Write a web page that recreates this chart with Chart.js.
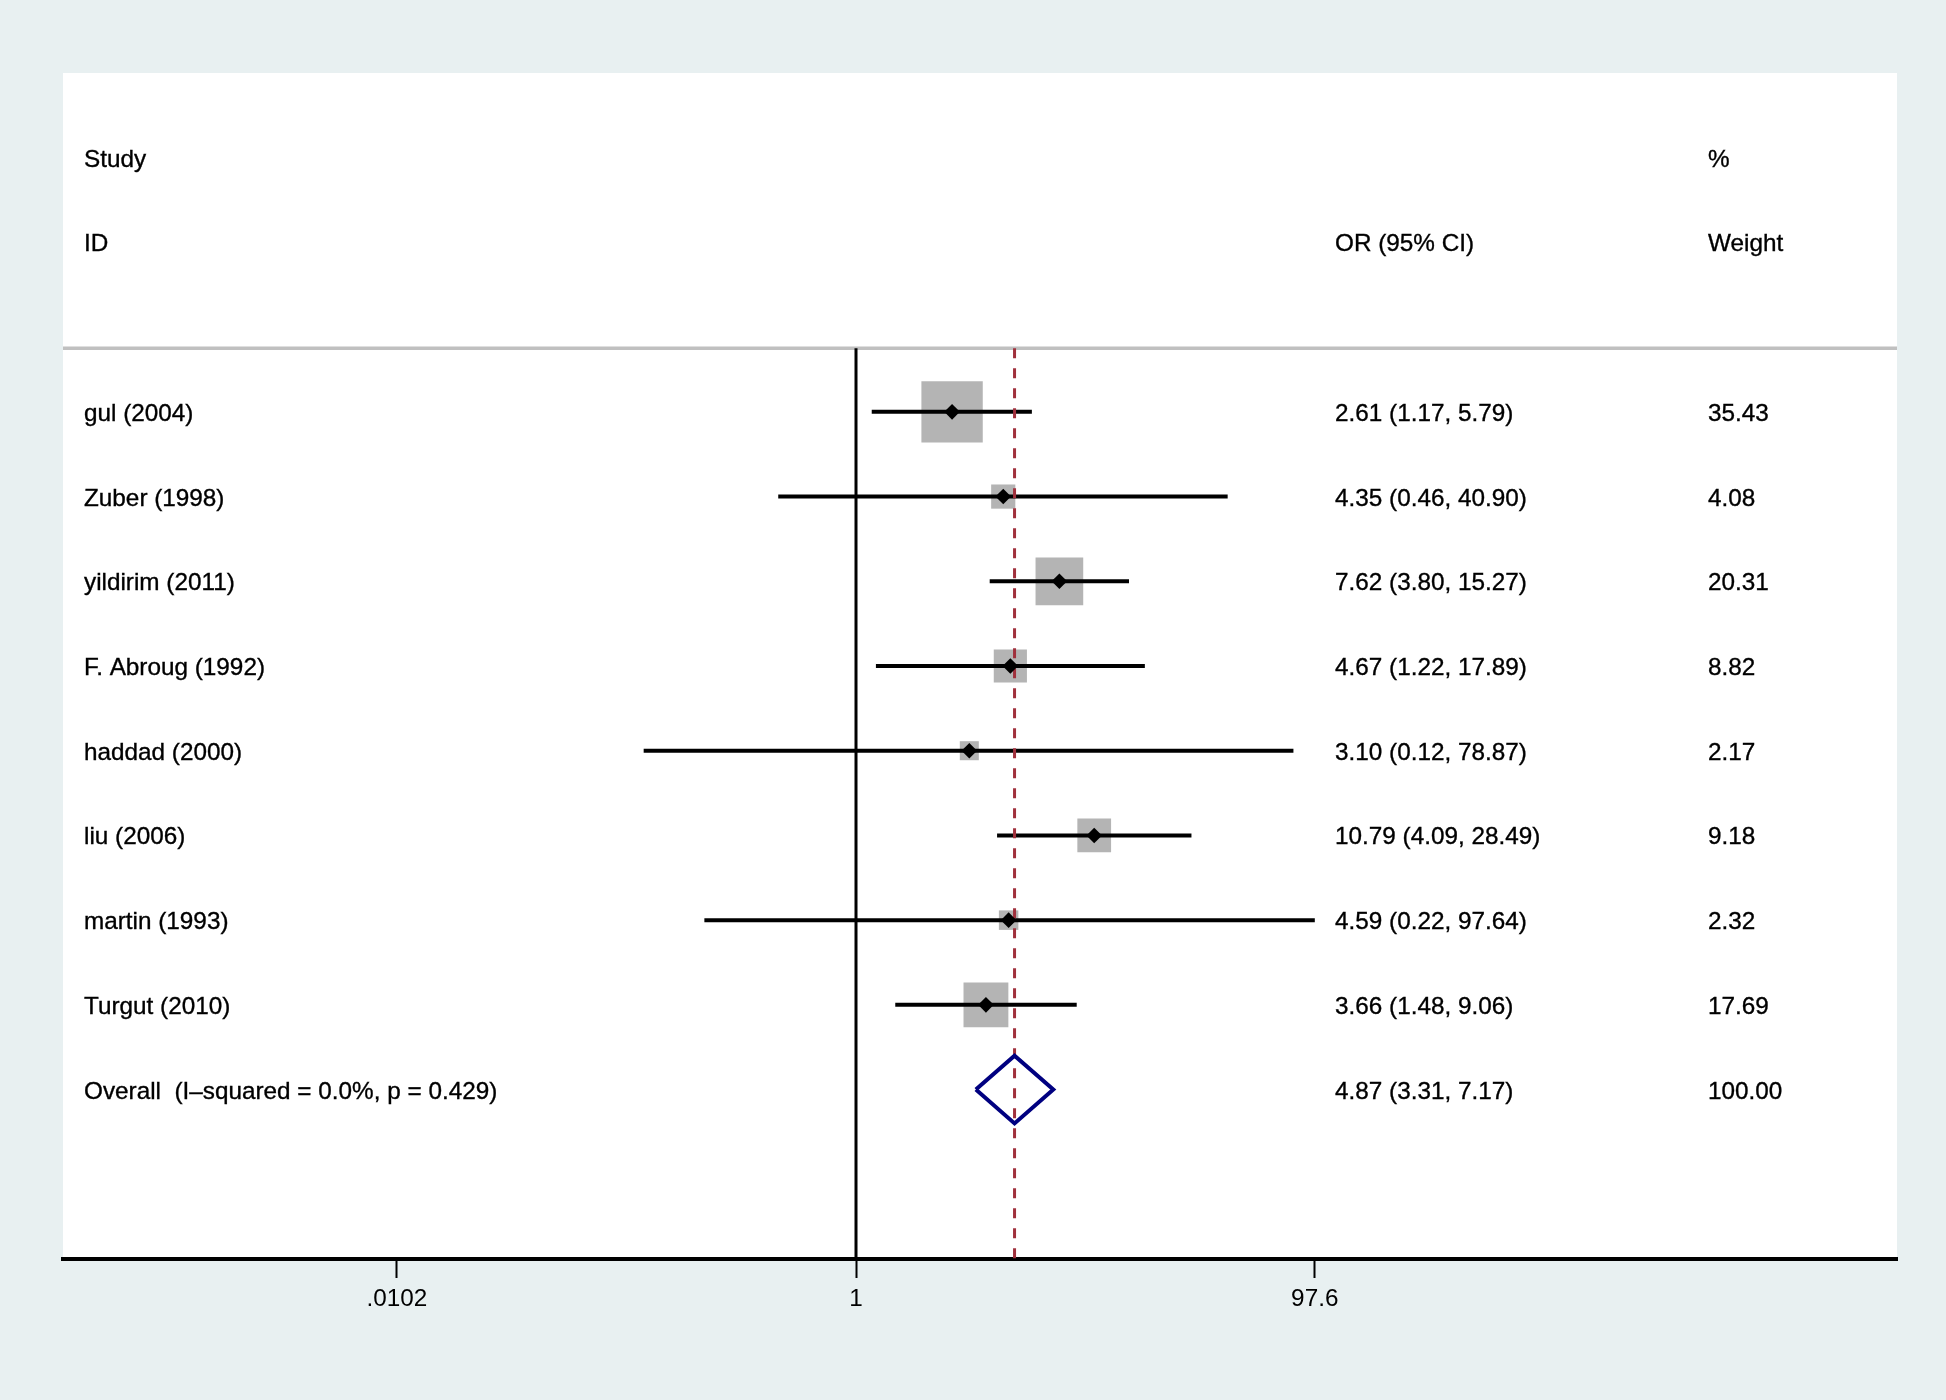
<!DOCTYPE html>
<html>
<head>
<meta charset="utf-8">
<script src="https://cdn.jsdelivr.net/npm/chart.js@4/dist/chart.umd.min.js"></script>
<style>
html,body{margin:0;padding:0;background:#e8f0f1;}
canvas{display:block;}
</style>
</head>
<body>
<canvas id="c" width="1946" height="1400"></canvas>
<script>
// ---- data ----
const studies   = ["gul (2004)", "Zuber (1998)", "yildirim (2011)", "F. Abroug (1992)", "haddad (2000)", "liu (2006)", "martin (1993)", "Turgut (2010)"];
const orValues  = [2.61, 4.35, 7.62, 4.67, 3.10, 10.79, 4.59, 3.66];
const ciLower   = [1.17, 0.46, 3.80, 1.22, 0.12, 4.09, 0.22, 1.48];
const ciUpper   = [5.79, 40.90, 15.27, 17.89, 78.87, 28.49, 97.64, 9.06];
const weights   = [35.43, 4.08, 20.31, 8.82, 2.17, 9.18, 2.32, 17.69];
const overallLabel = "Overall  (I\u2013squared = 0.0%, p = 0.429)";
const overallOR = 4.87, overallLo = 3.31, overallHi = 7.17, overallWeight = 100.00;
const tickValues = [0.0102, 1, 97.6];
const tickLabels = [".0102", "1", "97.6"];
const headerRow1 = ["Study", "", "%"];
const headerRow2 = ["ID", "OR (95% CI)", "Weight"];

// ---- styling ----
const FONT = "24.3px 'Liberation Sans', Arial, Helvetica, sans-serif";
const fmt2 = v => v.toFixed(2);
const orText = (e, l, u) => `${fmt2(e)} (${fmt2(l)}, ${fmt2(u)})`;

const rows = studies.map((_, i) => i);
const overallRow = studies.length;
const sepRow = -0.75;
const bottomRow = 10;

const datasets = [];
// weight boxes
datasets.push({
  type: 'scatter', order: 5,
  data: rows.map(i => ({x: orValues[i], y: i})),
  pointStyle: 'rect',
  pointRadius: weights.map(w => (5.1 + 9.45 * Math.sqrt(w)) / (2 * Math.SQRT1_2)),
  pointBackgroundColor: '#b4b4b4', pointBorderWidth: 0, borderWidth: 0
});
// CI lines
rows.forEach(i => {
  datasets.push({
    type: 'scatter', order: 3, showLine: true,
    data: [{x: ciLower[i], y: i}, {x: ciUpper[i], y: i}],
    borderColor: '#000', borderWidth: 4, pointRadius: 0, borderCapStyle: 'butt'
  });
});
// point estimate markers
datasets.push({
  type: 'scatter', order: 1,
  data: rows.map(i => ({x: orValues[i], y: i})),
  pointStyle: 'rectRot', pointRadius: 7.8,
  pointBackgroundColor: '#000', pointBorderWidth: 0
});
// null line at OR = 1
datasets.push({
  type: 'scatter', order: 4, showLine: true,
  data: [{x: 1, y: sepRow}, {x: 1, y: bottomRow}],
  borderColor: '#000', borderWidth: 3, pointRadius: 0
});
// overall estimate dashed line
datasets.push({
  type: 'scatter', order: 2, showLine: true,
  data: [{x: overallOR, y: sepRow}, {x: overallOR, y: bottomRow}],
  borderColor: '#a0303c', borderWidth: 3, borderDash: [10, 10], pointRadius: 0
});
// overall diamond
datasets.push({
  type: 'scatter', order: 1, showLine: true,
  data: [
    {x: overallLo, y: overallRow},
    {x: overallOR, y: overallRow - 0.4},
    {x: overallHi, y: overallRow},
    {x: overallOR, y: overallRow + 0.4},
    {x: overallLo, y: overallRow}
  ],
  borderColor: '#000080', borderWidth: 4, pointRadius: 0, fill: false,
  borderJoinStyle: 'miter', tension: 0
});

const textPlugin = {
  id: 'forestText',
  beforeDraw(chart) {
    const {ctx, chartArea: a} = chart;
    ctx.save();
    ctx.fillStyle = '#e8f0f1';
    ctx.fillRect(0, 0, chart.width, chart.height);
    ctx.fillStyle = '#ffffff';
    ctx.fillRect(a.left, a.top, a.right - a.left, a.bottom - a.top);
    ctx.restore();
  },
  beforeDatasetsDraw(chart) {
    const {ctx, chartArea: a, scales: {y}} = chart;
    ctx.save();
    ctx.strokeStyle = '#c0c0c0';
    ctx.lineWidth = 3.5;
    const yy = y.getPixelForValue(sepRow);
    ctx.beginPath(); ctx.moveTo(a.left, yy); ctx.lineTo(a.right, yy); ctx.stroke();
    ctx.restore();
  },
  afterDatasetsDraw(chart) {
    const {ctx, chartArea: a, scales: {y}} = chart;
    const cols = [a.left + 21, a.left + 1272, a.left + 1645];
    ctx.save();
    ctx.font = FONT;
    ctx.fillStyle = '#000';
    ctx.strokeStyle = '#000';
    ctx.lineWidth = 0.35;
    ctx.textAlign = 'left';
    ctx.textBaseline = 'alphabetic';
    const put = (txt, col, row) => {
      if (!txt) return;
      const yy = y.getPixelForValue(row) + 9;
      ctx.fillText(txt, cols[col], yy);
      ctx.strokeText(txt, cols[col], yy);
    };
    headerRow1.forEach((t, c) => put(t, c, -3));
    headerRow2.forEach((t, c) => put(t, c, -2));
    rows.forEach(i => {
      put(studies[i], 0, i);
      put(orText(orValues[i], ciLower[i], ciUpper[i]), 1, i);
      put(fmt2(weights[i]), 2, i);
    });
    put(overallLabel, 0, overallRow);
    put(orText(overallOR, overallLo, overallHi), 1, overallRow);
    put(fmt2(overallWeight), 2, overallRow);
    ctx.restore();
  }
};

new Chart(document.getElementById('c'), {
  type: 'scatter',
  data: {datasets},
  options: {
    responsive: false,
    animation: false,
    devicePixelRatio: 1,
    layout: {padding: {left: 63, right: 49, top: 73, bottom: 0}},
    plugins: {legend: {display: false}, tooltip: {enabled: false}},
    scales: {
      x: {
        type: 'logarithmic',
        min: 3.64e-4, max: 32683,
        afterBuildTicks: s => { s.ticks = tickValues.map(v => ({value: v})); },
        afterFit: s => { s.height = 141; },
        ticks: {
          callback: (v, i) => tickLabels[i],
          font: {family: "'Liberation Sans', Arial, sans-serif", size: 24.3},
          color: '#000', padding: 7, maxRotation: 0, autoSkip: false
        },
        grid: {drawOnChartArea: false, drawTicks: true, tickLength: 19, tickWidth: 2, tickColor: '#000'},
        border: {display: true, color: '#000', width: 4}
      },
      y: {type: 'linear', min: -4, max: bottomRow, reverse: true, display: false}
    }
  },
  plugins: [textPlugin]
});
</script>
</body>
</html>
